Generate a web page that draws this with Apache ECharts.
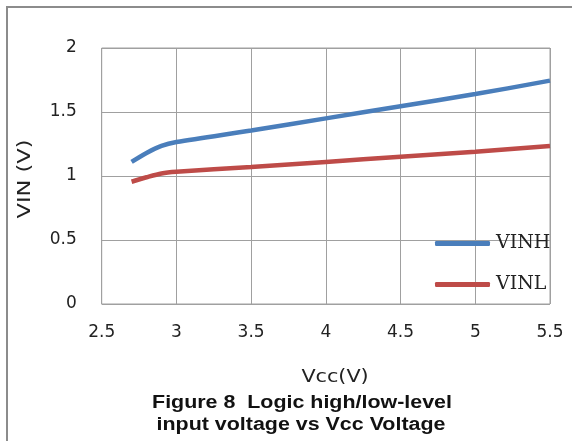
<!DOCTYPE html>
<html>
<head>
<meta charset="utf-8">
<script src="https://cdn.jsdelivr.net/npm/echarts@6/dist/echarts.min.js"></script>
<style>html,body{margin:0;padding:0;background:#fff}#c{width:572px;height:441px}</style>
</head>
<body>
<div id="c"></div>
<script>
var vcc = [2.7, 2.8, 2.9, 3.0, 3.5, 4.0, 4.5, 5.0, 5.5];
var vinh = [1.11, 1.18, 1.235, 1.265, 1.355, 1.45, 1.545, 1.64, 1.745];
var vinl = [0.955, 0.99, 1.02, 1.033, 1.07, 1.11, 1.15, 1.19, 1.234];
var xTicks = ['2.5', '3', '3.5', '4', '4.5', '5', '5.5'];
var yTicks = ['0', '0.5', '1', '1.5', '2'];

function pairs(xs, ys) { return xs.map(function (x, i) { return [x, ys[i]]; }); }

var chart = echarts.init(document.getElementById('c'), null, {renderer: 'canvas'});
var tickFont = {fontFamily: 'DejaVu Sans', fontSize: 17, color: '#222'};
chart.setOption({
  animation: false,
  backgroundColor: '#fff',
  grid: {left: 101.7, right: 22, top: 48, bottom: 137, show: true, borderColor: '#a0a0a0', borderWidth: 1},
  xAxis: {
    type: 'value', min: 2.5, max: 5.5, interval: 0.5,
    axisLine: {show: false}, axisTick: {show: false},
    splitLine: {show: true, lineStyle: {color: '#a0a0a0', width: 1}},
    axisLabel: Object.assign({margin: 20, formatter: function (v) { return xTicks[Math.round((v - 2.5) / 0.5)]; }}, tickFont)
  },
  yAxis: {
    type: 'value', min: 0, max: 2, interval: 0.5,
    axisLine: {show: false}, axisTick: {show: false},
    splitLine: {show: true, lineStyle: {color: '#a0a0a0', width: 1}},
    axisLabel: Object.assign({margin: 25, formatter: function (v) { return yTicks[Math.round(v / 0.5)]; }}, tickFont)
  },
  legend: {
    orient: 'vertical', left: 435, top: 234, padding: 0, itemWidth: 55, itemHeight: 5, itemGap: 22,
    icon: 'roundRect',
    textStyle: {fontFamily: 'DejaVu Serif', fontSize: 19, color: '#222', padding: [0, 0, 0, 1]},
    data: ['VINH', 'VINL']
  },
  series: [
    {name: 'VINH', type: 'line', data: pairs(vcc, vinh), smooth: 0.3, symbol: 'none',
     lineStyle: {color: '#4a7ebb', width: 4.5}, itemStyle: {color: '#4a7ebb'}},
    {name: 'VINL', type: 'line', data: pairs(vcc, vinl), smooth: 0.3, symbol: 'none',
     lineStyle: {color: '#be4b48', width: 4.5}, itemStyle: {color: '#be4b48'}}
  ],
  graphic: [
    {type: 'rect', shape: {x: 7, y: 7, width: 600, height: 500}, style: {fill: null, stroke: '#8c8c8c', lineWidth: 2}, silent: true},
    {type: 'text', x: 335, y: 377, scaleX: 1.15, style: {text: 'Vcc(V)', font: '18px "DejaVu Sans"', fill: '#222', textAlign: 'center', textVerticalAlign: 'middle'}},
    {type: 'text', x: 25, y: 179, rotation: Math.PI / 2, scaleX: 1.25, style: {text: 'VIN (V)', font: '18px "DejaVu Sans"', fill: '#222', textAlign: 'center', textVerticalAlign: 'middle'}},
    {type: 'text', x: 302, y: 403, scaleX: 1.19, style: {text: 'Figure 8  Logic high/low-level', font: 'bold 18px "Liberation Sans"', fill: '#111', textAlign: 'center', textVerticalAlign: 'middle'}},
    {type: 'text', x: 301, y: 425, scaleX: 1.19, style: {text: 'input voltage vs Vcc Voltage', font: 'bold 18px "Liberation Sans"', fill: '#111', textAlign: 'center', textVerticalAlign: 'middle'}}
  ]
});
</script>
</body>
</html>
